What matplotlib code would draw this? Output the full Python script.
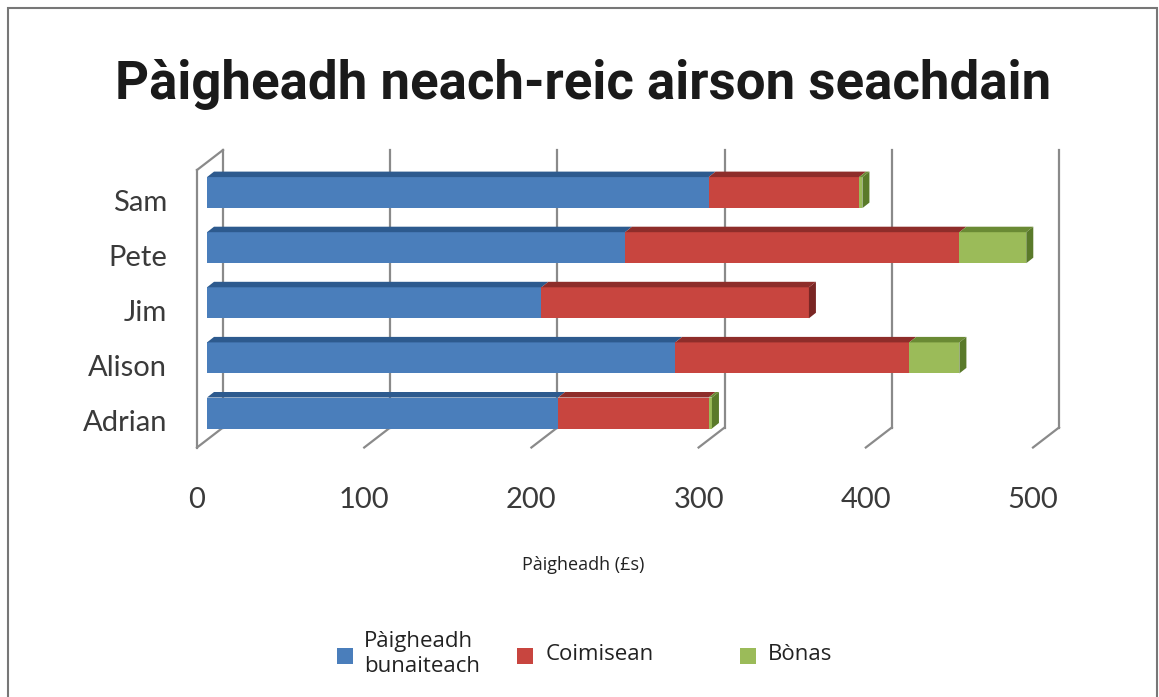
import matplotlib
matplotlib.use("Agg")
import matplotlib.pyplot as plt
from matplotlib.patches import Polygon, Rectangle

# data (bottom row first)
names = ["Adrian", "Alison", "Jim", "Pete", "Sam"]
base_pay = [210, 280, 200, 250, 300]
commission = [90, 140, 160, 200, 90]
bonus = [2, 30, 0, 40, 2]
series_labels = ["Pàigheadh\nbunaiteach", "Coimisean", "Bònas"]
x_ticks = [0, 100, 200, 300, 400, 500]

title = "Pàigheadh neach-reic airson seachdain"
x_label = "Pàigheadh (£s)"

front_colors = ["#4a7ebb", "#c8453f", "#9bbb59"]
top_colors = ["#2d5a8e", "#8e2d2a", "#6a8a34"]
side_colors = ["#244a75", "#7a2624", "#5a7a2a"]
grid_color = "#8a8a8a"

# pixel geometry of the fake 3-d chart
W, H = 1159, 697
X0_PX = 207        # left end of bar fronts
PX_PER_VAL = 1.672
ROW0_PX = 413      # centre of first bar front, from top
ROW_PX = 55.1
BAR_H_PX = 31
BAR_DX, BAR_DY = 7, 5.5      # bar depth
BACK_DX = 16                 # back wall offset from bar fronts
BACK_FLOOR = 14.5            # px below first row centre
BACK_TOP = 263               # px above first row centre
FRONT_DX, FRONT_DY = -26, -20  # front edge relative to back wall


def px_x(p):
    return p / PX_PER_VAL


def px_y(p):
    return p / ROW_PX


fig = plt.figure(figsize=(W / 100, H / 100), dpi=100)
ax = fig.add_axes([0, 0, 1, 1])
ax.set_xlim(-X0_PX / PX_PER_VAL, (W - X0_PX) / PX_PER_VAL)
ax.set_ylim(-(H - ROW0_PX) / ROW_PX, ROW0_PX / ROW_PX)
ax.axis("off")

# walls and gridlines
y_floor = -px_y(BACK_FLOOR)
y_top = px_y(BACK_TOP)
fx, fy = px_x(FRONT_DX), px_y(FRONT_DY)
for v in x_ticks:
    xb = v + px_x(BACK_DX)
    ax.plot([xb, xb], [y_floor, y_top], color=grid_color, lw=1.6, zorder=1)
    ax.plot([xb, xb + fx], [y_floor, y_floor + fy], color=grid_color, lw=1.6, zorder=1)
    if v == x_ticks[0]:
        ax.plot([xb + fx, xb + fx], [y_floor + fy, y_top + fy], color=grid_color, lw=1.6, zorder=1)
        ax.plot([xb, xb + fx], [y_top, y_top + fy], color=grid_color, lw=1.6, zorder=1)
    ax.text(xb + fx, y_floor - px_y(72), f"{v}", ha="center", va="center",
            fontsize=21, family="Lato", color="#3a3a3a")

# bars
h = px_y(BAR_H_PX)
ddx, ddy = px_x(BAR_DX), px_y(BAR_DY)
for i, name in enumerate(names):
    left = 0
    segs = [base_pay[i], commission[i], bonus[i]]
    last = max(k for k, s in enumerate(segs) if s > 0)
    for k, w in enumerate(segs):
        if w <= 0:
            continue
        ax.add_patch(Rectangle((left, i - h / 2), w, h, facecolor=front_colors[k],
                               edgecolor="none", zorder=3))
        ax.add_patch(Polygon([(left, i + h / 2), (left + w, i + h / 2),
                              (left + w + ddx, i + h / 2 + ddy), (left + ddx, i + h / 2 + ddy)],
                             closed=True, facecolor=top_colors[k], edgecolor="none", zorder=3))
        left += w
    ax.add_patch(Polygon([(left, i - h / 2), (left + ddx, i - h / 2 + ddy),
                          (left + ddx, i + h / 2 + ddy), (left, i + h / 2)],
                         closed=True, facecolor=side_colors[last], edgecolor="none", zorder=3))
    ax.text(-px_x(40), i - px_y(10), name, ha="right", va="center",
            fontsize=21, family="Lato", color="#3a3a3a")

# title and axis label
fig.text(583 / W, 1 - 84 / H, title, ha="center", va="center",
         fontsize=38, fontweight="bold", family="Roboto", color="#1a1a1a")
fig.text(583 / W, 1 - 565 / H, x_label, ha="center", va="center",
         fontsize=13, family="Open Sans", color="#222222")

# legend
legend_pos = [(345, 364), (525, 546), (748, 768)]
for (sq, tx), lab, col in zip(legend_pos, series_labels, front_colors):
    fig.add_artist(Rectangle(((sq - 8) / W, 1 - 664 / H), 16 / W, 16 / H,
                             transform=fig.transFigure, facecolor=col, edgecolor="none"))
    fig.text(tx / W, 1 - 654 / H, lab, ha="left", va="center", fontsize=16,
             family="Open Sans", color="#222222", linespacing=1.2)

# outer frame
fig.add_artist(Rectangle((8 / W, -0.02), 1149 / W, 1.02 - 8 / H, transform=fig.transFigure,
                         facecolor="none", edgecolor="#777777", lw=1.5))

fig.savefig("out.png", dpi=100)
